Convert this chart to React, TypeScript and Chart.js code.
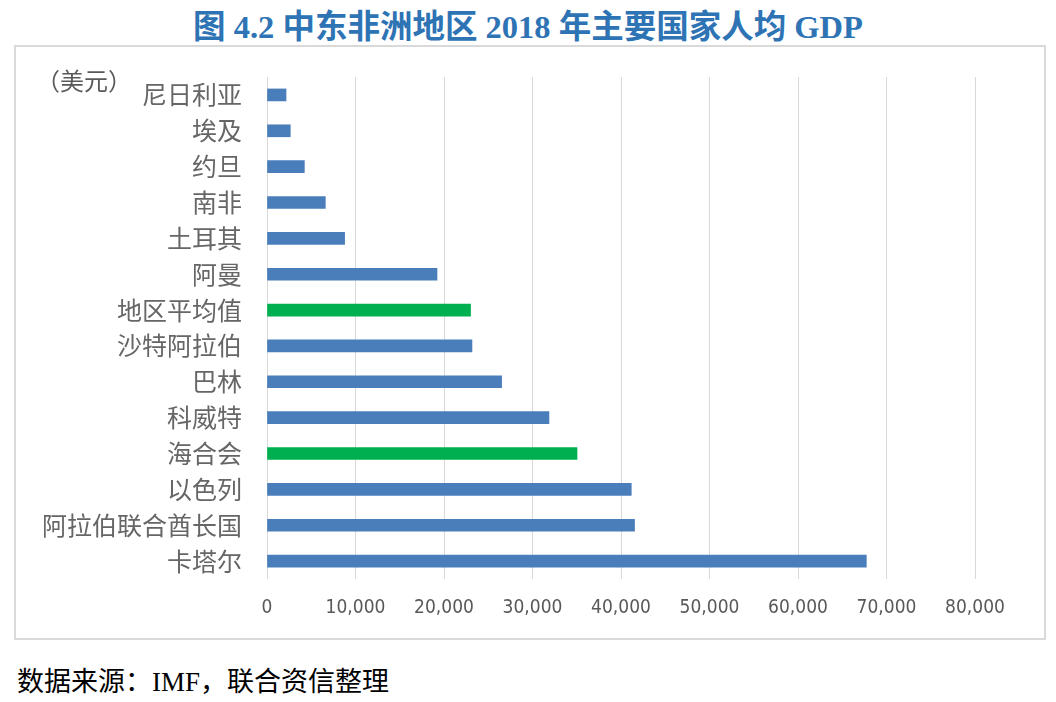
import React, { useEffect, useRef } from "react";
import { Chart, registerables } from "chart.js";

Chart.register(...registerables);

const titleText = "图 4.2 中东非洲地区 2018 年主要国家人均 GDP";
const unitText = "（美元）";
const sourceText = "数据来源：IMF，联合资信整理";

const categories = [
  "尼日利亚",
  "埃及",
  "约旦",
  "南非",
  "土耳其",
  "阿曼",
  "地区平均值",
  "沙特阿拉伯",
  "巴林",
  "科威特",
  "海合会",
  "以色列",
  "阿拉伯联合酋长国",
  "卡塔尔",
];
const gdpPerCapita = [2150, 2630, 4220, 6590, 8770, 19210, 23000, 23160, 26510, 31860, 35030, 41160, 41530, 67720];
const aggregateCategories = ["地区平均值", "海合会"];
const xMin = 0;
const xMax = 80000;
const xStep = 10000;

const BLUE = "#4a7ebb";
const GREEN = "#00b050";

export default function App() {
  const canvasRef = useRef<HTMLCanvasElement | null>(null);

  useEffect(() => {
    if (!canvasRef.current) return;
    const colors = categories.map((c) => (aggregateCategories.includes(c) ? GREEN : BLUE));
    const chart = new Chart(canvasRef.current, {
      type: "bar",
      data: {
        labels: categories,
        datasets: [
          {
            data: gdpPerCapita,
            backgroundColor: colors,
            borderWidth: 0,
            barThickness: 12,
          },
        ],
      },
      options: {
        indexAxis: "y",
        animation: false,
        responsive: false,
        maintainAspectRatio: false,
        devicePixelRatio: 1,
        layout: { padding: { top: 30, right: 69, left: 0, bottom: 0 } },
        plugins: {
          legend: { display: false },
          tooltip: { enabled: false },
          title: { display: false },
        },
        scales: {
          x: {
            min: xMin,
            max: xMax,
            grid: { color: "#d9d9d9", lineWidth: 1, drawTicks: false },
            border: { display: false },
            ticks: {
              stepSize: xStep,
              padding: 18,
              color: "#595959",
              font: { family: "'Liberation Sans Narrow', 'DejaVu Sans Condensed', 'Liberation Sans', sans-serif", size: 19 },
              callback: (v: any) => Number(v).toLocaleString("en-US"),
            },
            afterFit: (s: any) => {
              s.height = 59;
              s.paddingLeft = 0;
              s.paddingRight = 0;
            },
          },
          y: {
            grid: { display: false, drawTicks: false },
            border: { display: false },
            ticks: {
              padding: 25,
              color: "#666666",
              font: { family: "'Noto Sans CJK SC', sans-serif", size: 25 },
            },
            afterFit: (s: any) => {
              s.width = 251;
              s.paddingTop = 0;
              s.paddingBottom = 0;
            },
          },
        },
      },
    });
    return () => chart.destroy();
  }, []);

  return (
    <div style={{ position: "fixed", left: 0, top: 0, width: 1056, height: 702, background: "#fff" }}>
      <div
        style={{
          position: "absolute",
          left: 0,
          width: 1056,
          top: 7,
          textAlign: "center",
          color: "#2e74b5",
          fontWeight: "bold",
          fontSize: 32.5,
          lineHeight: "40px",
          fontFamily: "'Liberation Serif', 'Noto Sans CJK SC', serif",
          whiteSpace: "pre",
        }}
      >
        {titleText}
      </div>
      <div
        style={{
          position: "absolute",
          left: 14,
          top: 45,
          width: 1028,
          height: 591,
          border: "2px solid #d9d9d9",
        }}
      >
        <canvas ref={canvasRef} width={1028} height={591} style={{ display: "block", width: 1028, height: 591 }} />
        <div
          style={{
            position: "absolute",
            left: 20,
            top: 17,
            fontSize: 24,
            lineHeight: "32px",
            color: "#595959",
            fontFamily: "'Noto Sans CJK SC', sans-serif",
            whiteSpace: "pre",
          }}
        >
          {unitText}
        </div>
      </div>
      <div
        style={{
          position: "absolute",
          left: 17,
          top: 664,
          fontSize: 27,
          lineHeight: "36px",
          color: "#000",
          fontFamily: "'Liberation Serif', 'Noto Sans CJK SC', serif",
          whiteSpace: "pre",
        }}
      >
        {sourceText}
      </div>
    </div>
  );
}
